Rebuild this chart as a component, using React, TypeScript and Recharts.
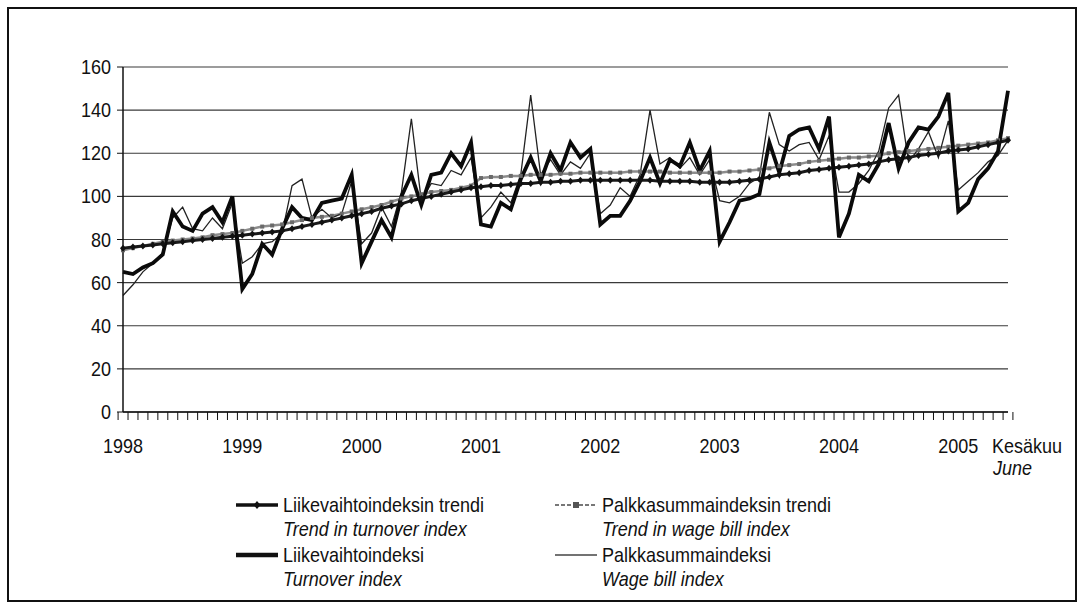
import React from 'react';
import { LineChart, Line, XAxis, YAxis, CartesianGrid } from 'recharts';

// monthly data, January 1998 - June 2005
const years = ['1998', '1999', '2000', '2001', '2002', '2003', '2004', '2005'];
const months = years
  .flatMap(y => ['01', '02', '03', '04', '05', '06', '07', '08', '09', '10', '11', '12'].map(m => `${y}-${m}`))
  .slice(0, 90);

const turnover = [
  65, 64, 67, 69, 73, 93, 86, 84, 92, 95, 88, 100,
  57, 64, 78, 73, 85, 95, 90, 89, 97, 98, 99, 110,
  69, 79, 89, 81, 100, 110, 96, 110, 111, 120, 114, 125,
  87, 86, 97, 94, 108, 118, 107, 120, 112, 125, 118, 122,
  87, 91, 91, 98, 107, 118, 106, 117, 114, 125, 112, 121,
  79, 88, 98, 99, 101, 125, 111, 128, 131, 132, 122, 137,
  81, 92, 110, 107, 115, 134, 113, 125, 132, 131, 137, 148,
  93, 97, 108, 113, 121, 149,
];

const wageBill = [
  54, 59, 65, 69, 74, 90, 95, 85, 84, 90, 85, 97,
  69, 72, 78, 79, 83, 105, 108, 90, 94, 90, 92, 107,
  78, 83, 95, 86, 102, 136, 98, 106, 105, 112, 110, 118,
  90, 95, 102, 97, 110, 147, 110, 117, 110, 116, 113, 120,
  92, 96, 104, 100, 110, 140, 115, 118, 113, 118, 110, 117,
  98, 97, 100, 106, 109, 139, 124, 121, 124, 125, 117, 128,
  102, 102, 106, 112, 121, 141, 147, 116, 122, 130, 118, 135,
  103, 107, 111, 116, 119, 126,
];

const turnoverTrend = [
  76, 76.5, 77, 77.5, 78, 78.5, 79, 79.5, 80, 80.5, 81, 81.5,
  82, 82.5, 83, 83.5, 84, 85, 86, 87, 88, 89, 90, 91,
  92, 93, 94.5, 95.5, 96.5, 98, 99, 100, 101, 102, 103, 104,
  104.5, 105, 105, 105.5, 106, 106, 106.5, 106.5, 107, 107, 107.5, 107.5,
  107.5, 107.5, 107.5, 107.5, 107.5, 107.5, 107, 107, 107, 107, 106.5, 106.5,
  106.5, 106.5, 107, 107.5, 108, 109, 110, 110.5, 111, 112, 112.5, 113,
  113.5, 114, 114.5, 115, 116, 117, 117.5, 118, 119, 119.5, 120, 121,
  121.5, 122, 123, 124, 125, 126,
];

const wageBillTrend = [
  75, 76, 77, 78, 79, 79.5, 80, 80.5, 81, 82, 82.5, 83,
  84, 85, 86, 86.5, 87, 88, 89, 90, 90.5, 91, 92, 93,
  94, 95, 96, 97.5, 99, 100, 101, 102, 102.5, 103, 104, 105,
  108.5, 109, 109, 109.5, 109.5, 110, 110, 110, 110.5, 110.5, 111, 111,
  111, 111, 111, 111.5, 111.5, 111.5, 111.5, 111, 111, 111, 111, 111,
  111, 111.5, 111.5, 112, 112.5, 113, 114, 114.5, 115, 116, 116.5, 117,
  117.5, 118, 118, 118.5, 119, 120, 120.5, 121, 121.5, 122, 122.5, 123,
  123.5, 124, 124.5, 125, 126, 127,
];

const yTicks = [0, 20, 40, 60, 80, 100, 120, 140, 160];
const endLabel = ['Kesäkuu', 'June'];

const legendItems = [
  { fi: 'Liikevaihtoindeksin trendi', en: 'Trend in turnover index', kind: 'turnoverTrend' },
  { fi: 'Palkkasummaindeksin trendi', en: 'Trend in wage bill index', kind: 'wageBillTrend' },
  { fi: 'Liikevaihtoindeksi', en: 'Turnover index', kind: 'turnover' },
  { fi: 'Palkkasummaindeksi', en: 'Wage bill index', kind: 'wageBill' },
];

const data = months.map((month, i) => ({
  month,
  turnover: turnover[i],
  wageBill: wageBill[i],
  turnoverTrend: turnoverTrend[i],
  wageBillTrend: wageBillTrend[i],
}));

const FONT = '"Liberation Sans", Arial, Helvetica, sans-serif';
const W = 1088;
const H = 611;
const PLOT_LEFT = 123;
const PLOT_RIGHT = 1008;
const PLOT_TOP = 67;
const PLOT_BOTTOM = 412;
const X_AXIS_H = 40;
const HALF_BAND = (PLOT_RIGHT - PLOT_LEFT) / months.length / 2;

// the scan uses a condensed sans; squeeze Liberation Sans horizontally
const CondText = ({ x, y, anchor = 'start', italic = false, children }: any) => (
  <text
    transform={`translate(${x},${y}) scale(0.9,1)`}
    textAnchor={anchor}
    fontSize={20}
    fill="#111"
    fontFamily={FONT}
    fontStyle={italic ? 'italic' : 'normal'}
  >
    {children}
  </text>
);

const YTick = (props: any) => (
  <CondText x={props.x} y={props.y + 7} anchor="end">{props.payload.value}</CondText>
);

const MonthTick = (props: any) => {
  const { x, payload } = props;
  const idx = months.indexOf(payload.value);
  const [yr, mm] = String(payload.value).split('-');
  const last = idx === months.length - 1;
  return (
    <g>
      <line x1={x - HALF_BAND} x2={x - HALF_BAND} y1={PLOT_BOTTOM} y2={PLOT_BOTTOM + 8} stroke="#111" />
      {last && <line x1={x + HALF_BAND} x2={x + HALF_BAND} y1={PLOT_BOTTOM} y2={PLOT_BOTTOM + 8} stroke="#111" />}
      {mm === '01' && <CondText x={x} y={PLOT_BOTTOM + 41} anchor="middle">{yr}</CondText>}
      {last && (
        <>
          <CondText x={x - 16} y={PLOT_BOTTOM + 41}>{endLabel[0]}</CondText>
          <CondText x={x - 15} y={PLOT_BOTTOM + 63} italic>{endLabel[1]}</CondText>
        </>
      )}
    </g>
  );
};

const Diamond = (p: any) => (
  <path
    key={`dia-${p.index}`}
    d={`M${p.cx},${p.cy - 3.5}L${p.cx + 3},${p.cy}L${p.cx},${p.cy + 3.5}L${p.cx - 3},${p.cy}Z`}
    fill="#111"
  />
);

const Square = (p: any) => (
  <rect key={`sq-${p.index}`} x={p.cx - 2} y={p.cy - 2} width={4} height={4} fill="#6a6a6a" />
);

const LegendSample = ({ kind, x, y }: { kind: string; x: number; y: number }) => {
  const x2 = x + 42;
  const mid = x + 21;
  if (kind === 'turnoverTrend') {
    return (
      <g>
        <line x1={x} x2={x2} y1={y} y2={y} stroke="#111" strokeWidth={3.5} />
        <path d={`M${mid},${y - 4}L${mid + 3.5},${y}L${mid},${y + 4}L${mid - 3.5},${y}Z`} fill="#111" />
      </g>
    );
  }
  if (kind === 'wageBillTrend') {
    return (
      <g>
        <line x1={x} x2={x2} y1={y} y2={y} stroke="#777" strokeWidth={2} strokeDasharray="4 2" />
        <rect x={mid - 3} y={y - 3} width={6} height={6} fill="#555" />
      </g>
    );
  }
  if (kind === 'turnover') {
    return <line x1={x} x2={x2} y1={y} y2={y} stroke="#111" strokeWidth={4.5} />;
  }
  return <line x1={x} x2={x2} y1={y} y2={y} stroke="#444" strokeWidth={1.3} />;
};

const ChartLegend = () => {
  const cols = [236, 555];
  const rows = [505, 555];
  return (
    <svg width={W} height={H} style={{ position: 'absolute', left: 0, top: 0, pointerEvents: 'none' }}>
      {legendItems.map((item, i) => {
        const x = cols[i % 2];
        const y = rows[Math.floor(i / 2)];
        return (
          <g key={item.kind}>
            <LegendSample kind={item.kind} x={x} y={y} />
            <CondText x={x + 47} y={y + 7}>{item.fi}</CondText>
            <CondText x={x + 47} y={y + 31} italic>{item.en}</CondText>
          </g>
        );
      })}
    </svg>
  );
};

const App = () => {
  return (
    <div style={{ position: 'absolute', left: 0, top: 0, width: W, height: H, background: '#fff', fontFamily: FONT }}>
      <div
        style={{
          position: 'absolute',
          left: 7,
          top: 7,
          width: 1070,
          height: 595,
          border: '2px solid #111',
          boxSizing: 'border-box',
        }}
      />
      <div style={{ position: 'absolute', left: 0, top: 0 }}>
        <LineChart
          width={W}
          height={H}
          data={data}
          margin={{ top: PLOT_TOP, right: W - PLOT_RIGHT, bottom: H - PLOT_BOTTOM - X_AXIS_H, left: 0 }}
        >
          <CartesianGrid vertical={false} stroke="#3a3a3a" strokeWidth={1.2} />
          <XAxis
            dataKey="month"
            interval={0}
            tickLine={false}
            axisLine={{ stroke: '#111', strokeWidth: 1.5 }}
            height={X_AXIS_H}
            tick={<MonthTick />}
          />
          <YAxis
            domain={[0, 160]}
            ticks={yTicks}
            width={PLOT_LEFT}
            tickSize={6}
            tickMargin={6}
            axisLine={{ stroke: '#111', strokeWidth: 1.5 }}
            tickLine={{ stroke: '#111' }}
            tick={<YTick />}
          />
          <YAxis
            yAxisId="r"
            orientation="right"
            domain={[0, 160]}
            width={0}
            tick={false}
            tickLine={false}
            axisLine={{ stroke: '#111', strokeWidth: 1.5 }}
          />
          <Line
            dataKey="wageBillTrend"
            stroke="#8c8c8c"
            strokeWidth={2.5}
            dot={Square}
            isAnimationActive={false}
          />
          <Line
            dataKey="turnoverTrend"
            stroke="#1a1a1a"
            strokeWidth={3}
            dot={Diamond}
            isAnimationActive={false}
          />
          <Line dataKey="wageBill" stroke="#222" strokeWidth={1.3} dot={false} isAnimationActive={false} />
          <Line dataKey="turnover" stroke="#0a0a0a" strokeWidth={3.8} dot={false} isAnimationActive={false} />
        </LineChart>
      </div>
      <ChartLegend />
    </div>
  );
};

export default App;
